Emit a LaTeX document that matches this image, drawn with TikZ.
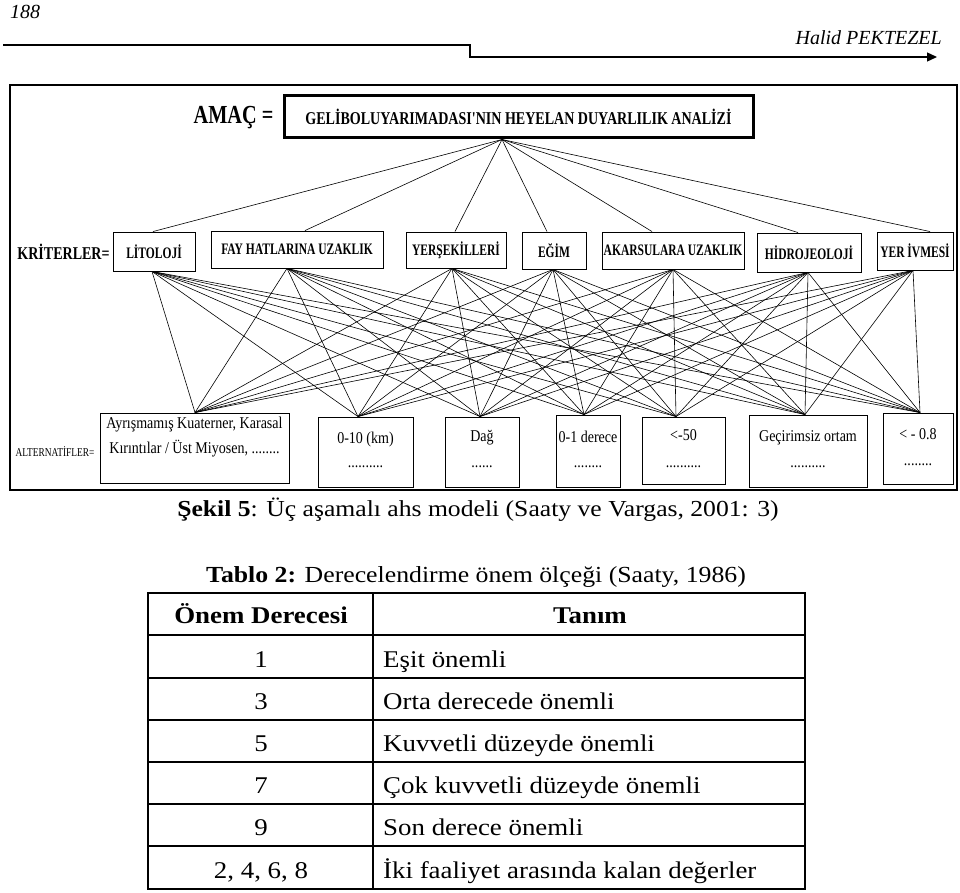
\documentclass[tikz,border=0pt]{standalone}
\usepackage{fontspec}
\setmainfont{Liberation Serif}[FakeStretch=1.12]
\newfontfamily\narrowfont{Liberation Serif}[FakeStretch=0.78]
\newfontfamily\critfont{Liberation Serif}[FakeStretch=0.72]
\newfontfamily\altfont{Liberation Serif}[FakeStretch=0.85]
\newfontfamily\hdfont{Liberation Serif}
\usetikzlibrary{arrows.meta}
\begin{document}
\begin{tikzpicture}[x=1pt,y=-1pt,
  critbox/.style={draw, line width=0.9pt, inner sep=0pt, font=\critfont\fontsize{16}{18}\selectfont\bfseries},
  altbox/.style={draw, line width=0.9pt, inner sep=0pt},
  alttext/.style={inner sep=0pt, text height=0.7em, text depth=0.22em, font=\altfont\fontsize{16.5}{18}\selectfont},
  link/.style={line width=0.6pt},
  lbl/.style={inner sep=0pt},
  tabtext/.style={inner sep=0pt, anchor=base, font=\fontsize{24}{27}\selectfont},
  rule/.style={line width=1.2pt}]
\useasboundingbox (0,0) rectangle (960,893);
% header
\node[lbl, font=\hdfont\itshape\fontsize{20}{22}\selectfont] (pg) at (25,12) {188};
\node[lbl, anchor=east, font=\hdfont\itshape\fontsize{20}{22}\selectfont] (au) at (942,38) {Halid PEKTEZEL};
\draw[line width=1.3pt, -{Triangle[length=10pt,width=9pt]}] (3,45) -- (470,45) -- (470,57) -- (937,57);
% frame
\draw[line width=1.5pt] (10,85) rectangle (957,490);
% goal
\node[lbl, font=\narrowfont\fontsize{26}{28}\selectfont\bfseries] (amac) at (233.5,118) {AMAÇ =};
\node[draw, line width=3pt, inner sep=0pt, minimum width=469pt, minimum height=42pt,
  font=\narrowfont\fontsize{18}{20}\selectfont\bfseries] (goal) at (518.5,117) {GELİBOLUYARIMADASI'NIN HEYELAN DUYARLILIK ANALİZİ};
\coordinate (gp) at ([xshift=-16.5pt]goal.south);
% criteria
\node[lbl, font=\narrowfont\fontsize{18}{20}\selectfont\bfseries] (krit) at (63.5,252) {KRİTERLER=};
\node[critbox, minimum width=82pt, minimum height=39pt] (c1) at (154,251.5) {LİTOLOJİ};
\node[critbox, minimum width=172pt, minimum height=37pt] (c2) at (297,249.5) {FAY HATLARINA UZAKLIK};
\node[critbox, minimum width=100pt, minimum height=36pt] (c3) at (456,250) {YERŞEKİLLERİ};
\node[critbox, minimum width=64pt, minimum height=37pt] (c4) at (554,250.5) {EĞİM};
\node[critbox, minimum width=142pt, minimum height=37pt] (c5) at (673,250.5) {AKARSULARA UZAKLIK};
\node[critbox, minimum width=104pt, minimum height=39pt] (c6) at (809,252.5) {HİDROJEOLOJİ};
\node[critbox, minimum width=76pt, minimum height=38pt] (c7) at (915,251) {YER İVMESİ};
% goal -> criteria
\draw[link] (gp) -- ([xshift=-1pt]c1.north);
\draw[link] (gp) -- ([xshift=8pt]c2.north);
\draw[link] (gp) -- ([xshift=-1pt]c3.north);
\draw[link] (gp) -- ([xshift=-7pt]c4.north);
\draw[link] (gp) -- ([xshift=-21pt]c5.north);
\draw[link] (gp) -- ([xshift=-11pt]c6.north);
\draw[link] (gp) -- ([xshift=15pt]c7.north);
% criteria bottom points
\coordinate (c1b) at ([xshift=-2pt]c1.south);
\coordinate (c2b) at ([xshift=-10pt]c2.south);
\coordinate (c3b) at ([xshift=-4pt]c3.south);
\coordinate (c4b) at ([xshift=-1pt]c4.south);
\coordinate (c5b) at (c5.south);
\coordinate (c6b) at ([xshift=-1pt]c6.south);
\coordinate (c7b) at ([xshift=-2pt]c7.south);
% alternatives
\node[lbl, font=\narrowfont\fontsize{12}{13}\selectfont] (alt) at (55,452) {ALTERNATİFLER=};
\node[altbox, minimum width=189pt, minimum height=70pt] (a1) at (194.5,448) {};
\node[altbox, minimum width=95pt, minimum height=70pt] (a2) at (365.5,452) {};
\node[altbox, minimum width=74pt, minimum height=70pt] (a3) at (482,452) {};
\node[altbox, minimum width=64pt, minimum height=72pt] (a4) at (588,451) {};
\node[altbox, minimum width=83pt, minimum height=67pt] (a5) at (683.5,450.5) {};
\node[altbox, minimum width=118pt, minimum height=72pt] (a6) at (808,451) {};
\node[altbox, minimum width=70pt, minimum height=71pt] (a7) at (918,448.5) {};
\node[alttext] (a1l1) at (194.5,426) {Ayrışmamış Kuaterner, Karasal};
\node[alttext] (a1l2) at (194.5,451) {Kırıntılar / Üst Miyosen, ........};
\node[alttext] (a2l1) at (365.5,441) {0-10 (km)};
\node[alttext] (a2l2) at (365.5,465) {..........};
\node[alttext] (a3l1) at (482,439) {Dağ};
\node[alttext] (a3l2) at (482,465) {......};
\node[alttext] (a4l1) at (588,440) {0-1 derece};
\node[alttext] (a4l2) at (588,465) {........};
\node[alttext] (a5l1) at (683.5,438) {<-50};
\node[alttext] (a5l2) at (683.5,465) {..........};
\node[alttext] (a6l1) at (808,439) {Geçirimsiz ortam};
\node[alttext] (a6l2) at (808,465) {..........};
\node[alttext] (a7l1) at (918,437) {< - 0.8};
\node[alttext] (a7l2) at (918,463) {........};
\coordinate (a1t) at ([xshift=0.5pt]a1.north);
\coordinate (a2t) at ([xshift=-7.5pt]a2.north);
\coordinate (a3t) at ([xshift=-2pt]a3.north);
\coordinate (a4t) at ([xshift=-4pt]a4.north);
\coordinate (a5t) at ([xshift=-7.5pt]a5.north);
\coordinate (a6t) at ([xshift=-3pt]a6.north);
\coordinate (a7t) at ([xshift=2pt]a7.north);
\foreach \i in {1,...,7}{\foreach \j in {1,...,7}{\draw[link] (c\i b) -- (a\j t);}}
% caption
\node[lbl, anchor=base, font=\fontsize{22.9}{26}\selectfont] (cap) at (478,516) {\textbf{Şekil 5}: Üç aşamalı ahs modeli (Saaty ve Vargas, 2001: 3)};
\node[lbl, anchor=base, font=\fontsize{23}{26}\selectfont] (tcap) at (476,582) {\textbf{Tablo 2:} Derecelendirme önem ölçeği (Saaty, 1986)};
% table
\draw[rule] (148,593) rectangle (805,889);
\foreach \yy in {635,678,720,762,804,846}{\draw[rule] (148,\yy) -- (805,\yy);}
\draw[rule] (373,593) -- (373,889);
\node[tabtext, font=\fontsize{24}{27}\selectfont\bfseries] (h1) at (261,623) {Önem Derecesi};
\node[tabtext, font=\fontsize{24}{27}\selectfont\bfseries] (h2) at (590,623) {Tanım};
\node[tabtext] (n1) at (261,667) {1};
\node[tabtext] (n2) at (261,709) {3};
\node[tabtext] (n3) at (261,751) {5};
\node[tabtext] (n4) at (261,793) {7};
\node[tabtext] (n5) at (261,835) {9};
\node[tabtext] (n6) at (261,878) {2, 4, 6, 8};
\node[tabtext, anchor=base west] (d1) at (383,667) {Eşit önemli};
\node[tabtext, anchor=base west] (d2) at (383,709) {Orta derecede önemli};
\node[tabtext, anchor=base west] (d3) at (383,751) {Kuvvetli düzeyde önemli};
\node[tabtext, anchor=base west] (d4) at (383,793) {Çok kuvvetli düzeyde önemli};
\node[tabtext, anchor=base west] (d5) at (383,835) {Son derece önemli};
\node[tabtext, anchor=base west] (d6) at (383,878) {İki faaliyet arasında kalan değerler};
\end{tikzpicture}
\end{document}
